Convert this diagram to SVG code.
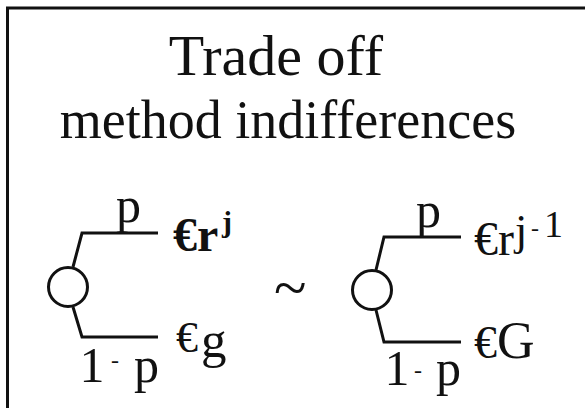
<svg xmlns="http://www.w3.org/2000/svg" width="585" height="408" viewBox="0 0 585 408">
<style>
  text { font-family: "Liberation Serif", "Times New Roman", serif; fill: #111; }
  .title { font-size: 56px; text-anchor: middle; }
  .prob { font-size: 50px; }
  .pay { font-size: 48px; }
  .bold { font-weight: bold; }
  .branch { fill: none; stroke: #111; stroke-width: 3; stroke-linejoin: miter; }
  .chance { fill: #fff; stroke: #111; stroke-width: 3; }
</style>
<rect width="585" height="408" fill="#fff"/>
<path d="M7.5,408 V8 H585" fill="none" stroke="#111" stroke-width="3"/>
<g id="title">
  <text class="title" x="276" y="75" style="font-size:58px">Trade off</text>
  <text class="title" x="288" y="138" style="font-size:54px">method indifferences</text>
</g>
<g id="connectors">
  <path class="branch" d="M73,267 L82,233 H158"/>
  <path class="branch" d="M73,307 L82,337 H158"/>
  <path class="branch" d="M376,270 L384,237 H461"/>
  <path class="branch" d="M376,310 L384,342 H461"/>
</g>
<g id="left-lottery">
  <circle class="chance" cx="68" cy="287" r="19.5"/>
  <text class="prob" x="116" y="222">p</text>
  <text class="pay bold" x="173" y="251">€r</text>
  <text class="bold" x="222" y="232" style="font-size:30px">j</text>
  <text class="prob" x="79.5" y="382">1</text>
  <text x="111" y="368" style="font-size:24px">-</text>
  <text class="prob" x="134" y="382">p</text>
  <text x="176" y="352" style="font-size:44px">€</text>
  <text x="201" y="357" style="font-size:51px">g</text>
</g>
<g id="tilde">
  <text x="274" y="308" style="font-size:60px">~</text>
</g>
<g id="right-lottery">
  <circle class="chance" cx="372" cy="290" r="19.5"/>
  <text class="prob" x="416" y="227">p</text>
  <text class="pay" x="474" y="255">€r</text>
  <text x="515" y="245" style="font-size:44px">j</text>
  <text x="531" y="236" style="font-size:24px">-</text>
  <text x="544" y="237" style="font-size:38px">1</text>
  <text class="prob" x="384.5" y="385">1</text>
  <text x="414" y="378" style="font-size:24px">-</text>
  <text class="prob" x="436" y="385">p</text>
  <text x="474" y="358" style="font-size:46px">€</text>
  <text x="497" y="358" style="font-size:52px">G</text>
</g>
</svg>
